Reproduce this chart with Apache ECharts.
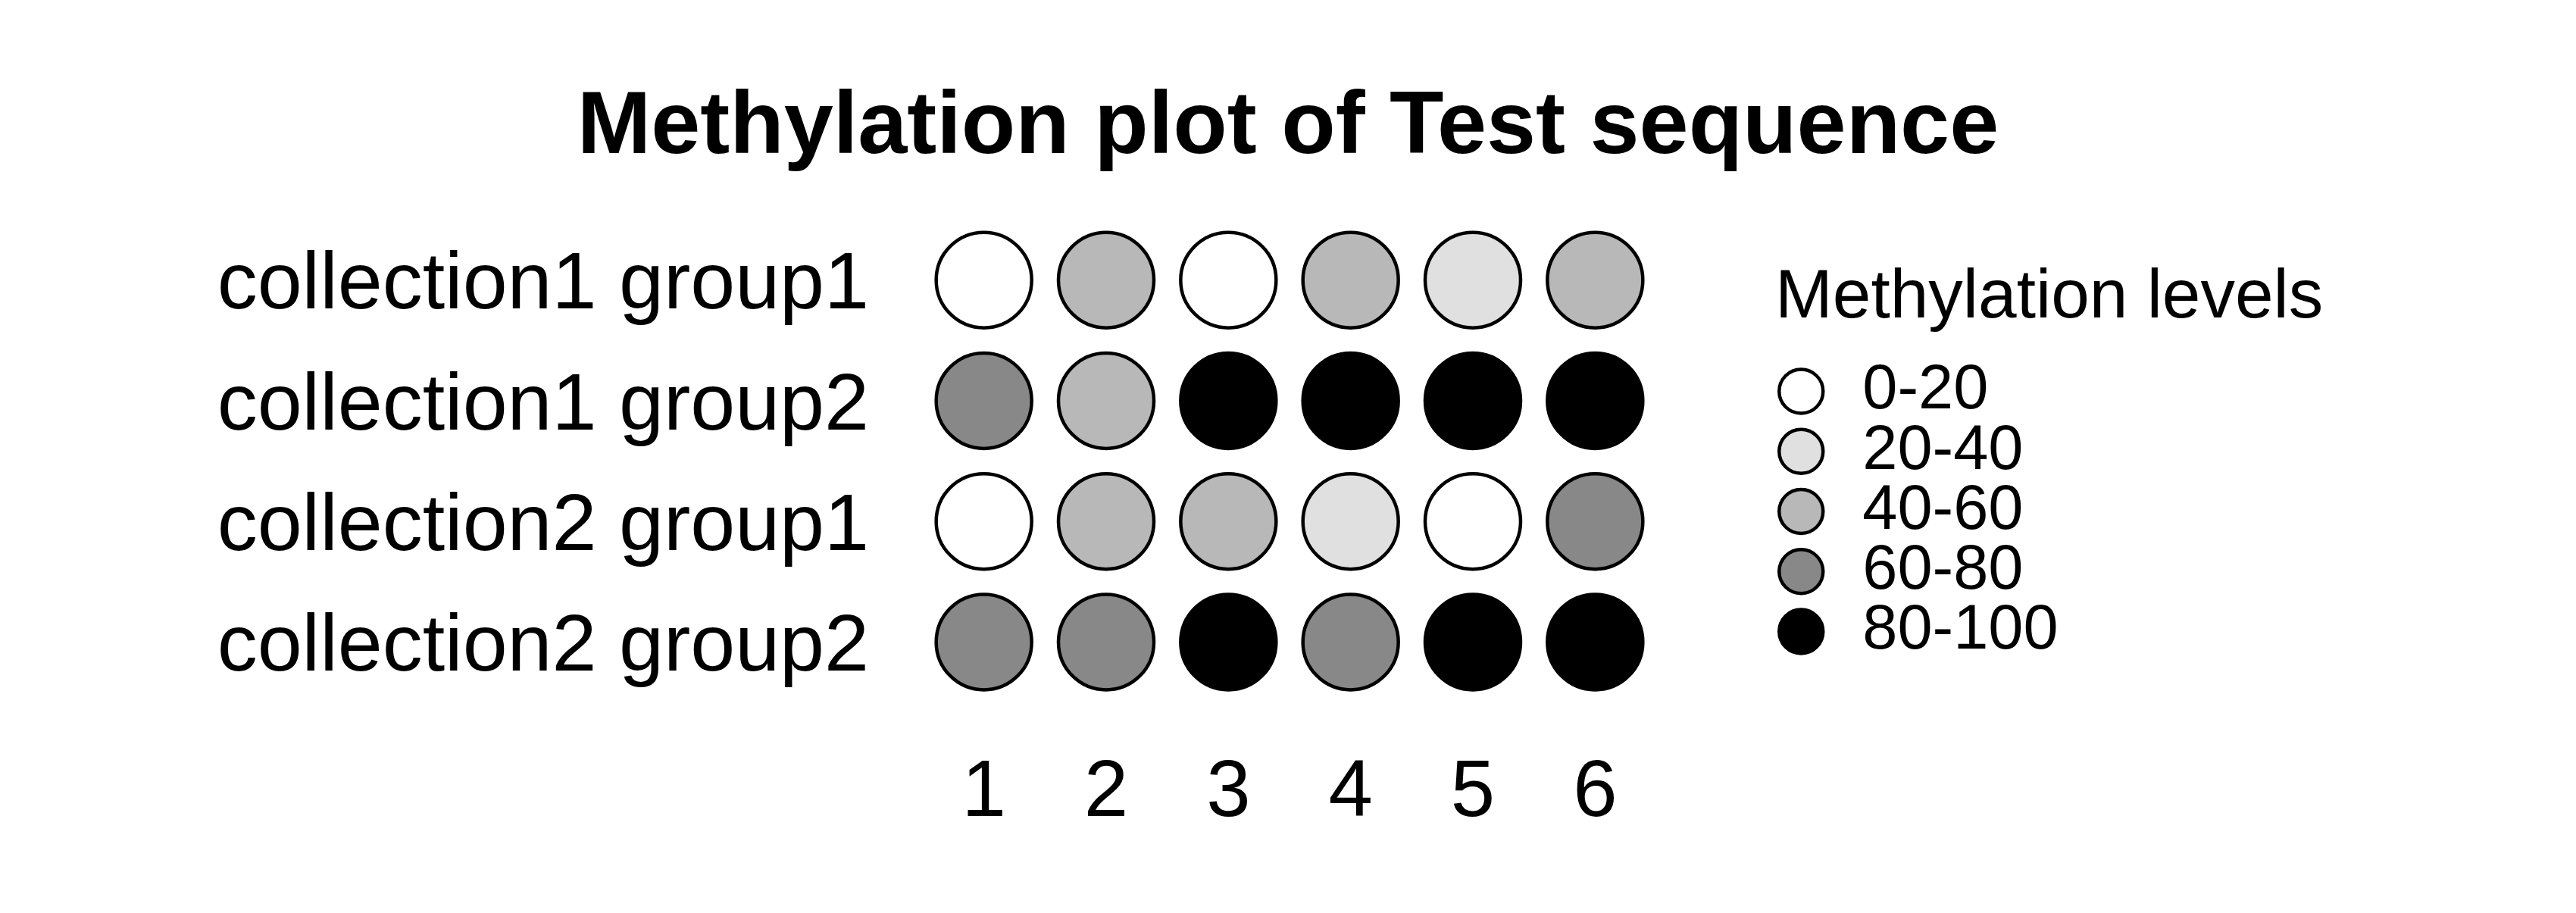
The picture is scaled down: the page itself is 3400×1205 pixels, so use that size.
<!DOCTYPE html>
<html>
<head>
<meta charset="utf-8">
<script src="https://cdn.jsdelivr.net/npm/echarts@6/dist/echarts.min.js"></script>
<style>
html,body{margin:0;padding:0;background:#fff;}
#chart{width:3400px;height:1205px;}
</style>
</head>
<body>
<div id="chart"></div>
<script>
// ---- data ----
const positions = ['1', '2', '3', '4', '5', '6'];
const samples = ['collection1 group1', 'collection1 group2', 'collection2 group1', 'collection2 group2'];
const levelLabels = ['0-20', '20-40', '40-60', '60-80', '80-100'];
const levelColors = ['#ffffff', '#e0e0e0', '#b8b8b8', '#888888', '#000000'];
// methylation level class (index into levelLabels) per position
const collection1Group1 = [0, 2, 0, 2, 1, 2];
const collection1Group2 = [3, 2, 4, 4, 4, 4];
const collection2Group1 = [0, 2, 2, 1, 0, 3];
const collection2Group2 = [3, 3, 4, 3, 4, 4];
const rows = [collection1Group1, collection1Group2, collection2Group1, collection2Group2];

const FONT = 'Liberation Sans, Arial, sans-serif';

const series = levelLabels.map((lab, li) => {
  const data = [];
  rows.forEach((row, ri) => {
    row.forEach((lv, ci) => {
      if (lv === li) data.push([positions[ci], samples[ri]]);
    });
  });
  return {
    name: lab, type: 'scatter', symbol: 'circle', symbolSize: 126, data: data,
    itemStyle: { color: levelColors[li], borderColor: '#000', borderWidth: 4.5, opacity: 1 },
    emphasis: { disabled: true }, animation: false
  };
});

const chart = echarts.init(document.getElementById('chart'), null, { renderer: 'canvas' });
chart.setOption({
  backgroundColor: '#ffffff',
  animation: false,
  title: [
    { text: 'Methylation plot of Test sequence', left: 'center', top: 106, padding: [5, 5, 5, 17],
      textStyle: { fontFamily: FONT, fontSize: 117, fontWeight: 'bold', color: '#000' } },
    { text: 'Methylation levels', left: 2338, top: 343,
      textStyle: { fontFamily: FONT, fontSize: 91, fontWeight: 'normal', color: '#000' } }
  ],
  legend: {
    orient: 'vertical', left: 2341, top: 470, icon: 'circle',
    itemWidth: 58, itemHeight: 58, itemGap: -3.75, selectedMode: false, data: levelLabels,
    itemStyle: { borderWidth: 4.5, borderColor: '#000' },
    textStyle: { fontFamily: FONT, fontSize: 83, lineHeight: 58, color: '#000', padding: [0, 0, 0, 47] }
  },
  grid: { left: 1218, top: 290, width: 968, height: 637, containLabel: false },
  xAxis: { type: 'category', data: positions, axisLine: { show: false }, axisTick: { show: false },
    splitLine: { show: false }, axisLabel: { fontFamily: FONT, fontSize: 105, color: '#000', margin: 69 } },
  yAxis: { type: 'category', data: samples, inverse: true, axisLine: { show: false }, axisTick: { show: false },
    splitLine: { show: false }, axisLabel: { fontFamily: FONT, fontSize: 106, color: '#000', margin: 71, verticalAlign: 'top', lineHeight: 17 } },
  series: series
});
</script>
</body>
</html>
